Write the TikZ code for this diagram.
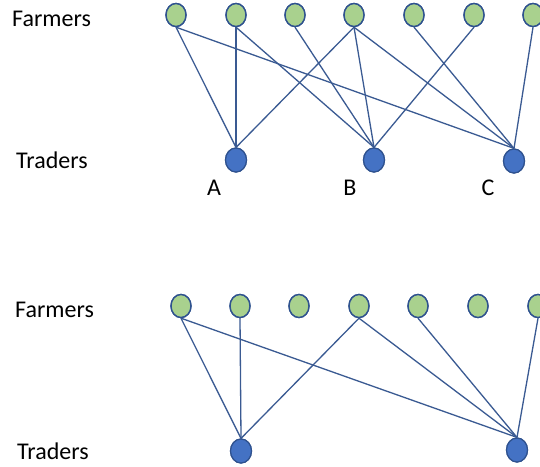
\documentclass[tikz,border=0pt]{standalone}
\usepackage{fontspec}
\setmainfont{Carlito}
\usetikzlibrary{shapes.geometric}
\definecolor{farmfill}{HTML}{A9D18E}
\definecolor{tradefill}{HTML}{4472C4}
\definecolor{outline}{HTML}{2F528F}
\definecolor{linkcol}{HTML}{3A5A92}
\tikzset{
  farmer/.style={ellipse, draw=outline, line width=1.4pt, fill=farmfill,
    minimum width=20pt, minimum height=23pt, inner sep=0pt},
  trader/.style={ellipse, draw=outline, line width=1.2pt, fill=tradefill,
    minimum width=21pt, minimum height=24pt, inner sep=0pt},
  link/.style={draw=linkcol, line width=1.3pt},
  lbl/.style={font=\fontsize{24}{28}\selectfont, inner sep=0pt, anchor=base west},
  letter/.style={font=\fontsize{24}{28}\selectfont, inner sep=0pt, anchor=base}
}
\begin{document}
\begin{tikzpicture}[x=1pt,y=-1pt]
\fill[white] (0,0) rectangle (540,466);
\clip (0,0) rectangle (540,466);

% ---- upper network: three traders ----
\node[lbl] (farmersA) at (12,26) {Farmers};
\node[lbl] (tradersA) at (16,168) {Traders};

\foreach \i/\x in {1/176,2/236,3/295,4/354,5/414,6/474,7/533}
  \node[farmer] (u\i) at (\x,15) {};

\node[trader] (ta) at (236,160) {};
\node[trader] (tb) at (374,160) {};
\node[trader] (tc) at (514,161) {};

\node[letter] (la) at (214,195) {A};
\node[letter] (lb) at (350,195) {B};
\node[letter] (lc) at (488,195) {C};

\foreach \f/\t in {u1/ta,u1/tc,u2/ta,u2/tb,u3/tb,u4/ta,u4/tb,u4/tc,u5/tc,u6/tb,u7/tc}
  \draw[link] (\f.south) -- (\t.north);

% ---- lower network: two traders ----
\node[lbl] (farmersB) at (15,317) {Farmers};
\node[lbl] (tradersB) at (17,459) {Traders};

\foreach \i/\x in {1/181,2/240,3/299,4/359,5/418,6/478,7/538}
  \node[farmer] (d\i) at (\x,306) {};

\node[trader] (tl) at (241,451) {};
\node[trader] (tr) at (517,450) {};

\foreach \f/\t in {d1/tl,d1/tr,d2/tl,d4/tl,d4/tr,d5/tr,d7/tr}
  \draw[link] (\f.south) -- (\t.north);

% redraw node bodies above the links
\foreach \i/\x in {1/176,2/236,3/295,4/354,5/414,6/474,7/533}
  \node[farmer] at (\x,15) {};
\foreach \i/\x in {1/181,2/240,3/299,4/359,5/418,6/478,7/538}
  \node[farmer] at (\x,306) {};
\node[trader] at (236,160) {};
\node[trader] at (374,160) {};
\node[trader] at (514,161) {};
\node[trader] at (241,451) {};
\node[trader] at (517,450) {};
\end{tikzpicture}
\end{document}
